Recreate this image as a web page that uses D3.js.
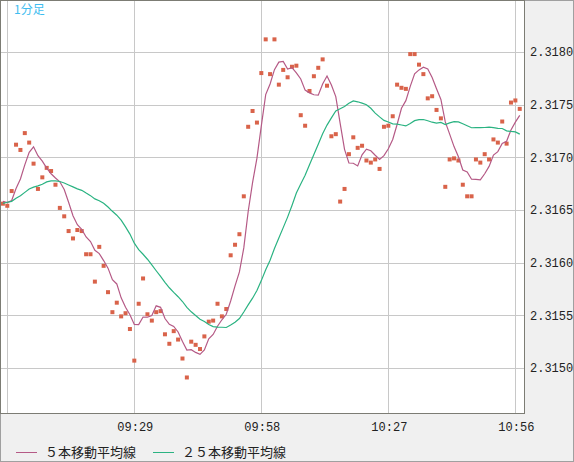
<!DOCTYPE html>
<html>
<head>
<meta charset="utf-8">
<script src="https://cdn.jsdelivr.net/npm/d3@7"></script>
<style>
  body { margin: 0; background: #f0f0f0; }
  svg { display: block; }
</style>
</head>
<body>
<svg id="chart" width="574" height="462"></svg>
<script>
// minute closes, index 0 = 08:59
var startMinute = 8 * 60 + 59
var closes = [2.31656,
  2.31654,2.31668,2.31712,2.31707,2.31723,2.31714,2.31694,2.31670,2.31681,2.31690,
  2.31687,2.31674,2.31652,2.31644,2.31630,2.31623,2.31631,2.31630,2.31608,2.31608,
  2.31582,2.31615,2.31597,2.31572,2.31553,2.31562,2.31549,2.31552,2.31537,2.31507,
  2.31561,2.31585,2.31551,2.31545,2.31553,2.31554,2.31532,2.31523,2.31535,2.31527,
  2.31509,2.31491,2.31525,2.31522,2.31518,2.31530,2.31544,2.31545,2.31561,2.31549,
  2.31556,2.31607,2.31617,2.31627,2.31663,2.31729,2.31744,2.31733,2.31780,2.31812,
  2.31779,2.31812,2.31769,2.31783,2.31776,2.31786,2.31787,2.31740,2.31730,2.31763,
  2.31777,2.31785,2.31793,2.31768,2.31720,2.31722,2.31658,2.31670,2.31703,2.31719,
  2.31709,2.31711,2.31697,2.31695,2.31698,2.31689,2.31729,2.31730,2.31739,2.31769,
  2.31766,2.31765,2.31798,2.31798,2.31788,2.31779,2.31756,2.31758,2.31745,2.31737,
  2.31672,2.31698,2.31699,2.31697,2.31674,2.31663,2.31663,2.31698,2.31695,2.31703,
  2.31698,2.31717,2.31714,2.31734,2.31713,2.31752,2.31754,2.31746]
// closes before the visible window, only used to seed the averages
var prior = [2.31630,2.31645,2.31638,2.31650,2.31642,2.31635,2.31648,2.31640,2.31644,2.31632,
  2.31665,2.31672,2.31668,2.31680,2.31675,2.31670,2.31678,2.31665,2.31673,2.31668,
  2.31660,2.31658,2.31655,2.31662]
var yTicks = [2.3150, 2.3155, 2.3160, 2.3165, 2.3170, 2.3175, 2.3180]
var xTicks = ["09:00", "09:29", "09:58", "10:27", "10:56"]
var legend = [{name: "５本移動平均線", n: 5, color: "#b55a86"},
              {name: "２５本移動平均線", n: 25, color: "#2bb382"}]

function toMin(s){ var p = s.split(":"); return +p[0] * 60 + +p[1] - startMinute }

var all = prior.concat(closes)
function ma(n){
  return closes.map((c, i) => {
    var j = i + prior.length
    return {i: i, v: d3.mean(all.slice(j - n + 1, j + 1))}
  })
}

var svg = d3.select("#chart")
var plot = {left: 0.5, top: 0.5, right: 524.5, bottom: 413.5}

var x = d3.scaleLinear().domain([0, 118]).range([2.9, 2.9 + 4.38 * 118])
var y = d3.scaleLinear().domain([2.3150, 2.3180]).range([368, 52])

svg.append("rect").attr("x", 0.5).attr("y", 0.5).attr("width", 573).attr("height", 461)
  .attr("fill", "#f0f0f0").attr("stroke", "#a0a0a0")
svg.append("rect").attr("x", plot.left).attr("y", plot.top)
  .attr("width", plot.right - plot.left).attr("height", plot.bottom - plot.top)
  .attr("fill", "#fff")

svg.append("clipPath").attr("id", "clip").append("rect")
  .attr("x", plot.left).attr("y", plot.top)
  .attr("width", plot.right - plot.left).attr("height", plot.bottom - plot.top)

var g = svg.append("g").attr("clip-path", "url(#clip)")
g.selectAll(".hg").data(yTicks).join("line")
  .attr("x1", plot.left).attr("x2", plot.right)
  .attr("y1", d => Math.round(y(d)) + 0.5).attr("y2", d => Math.round(y(d)) + 0.5)
  .attr("stroke", "#c8c8c8")
g.selectAll(".vg").data(xTicks).join("line")
  .attr("y1", plot.top).attr("y2", plot.bottom)
  .attr("x1", d => Math.round(x(toMin(d))) + 0.5).attr("x2", d => Math.round(x(toMin(d))) + 0.5)
  .attr("stroke", "#c8c8c8")

g.selectAll(".dot").data(closes).join("rect")
  .attr("x", (d, i) => x(i) - 2).attr("y", d => y(d) - 2)
  .attr("width", 4).attr("height", 4).attr("fill", "#d9634a")

legend.forEach(l => {
  g.append("path").datum(ma(l.n))
    .attr("fill", "none").attr("stroke", l.color).attr("stroke-width", 1.2)
    .attr("d", d3.line().x(d => x(d.i)).y(d => y(d.v)))
})

svg.append("rect").attr("x", plot.left).attr("y", plot.top)
  .attr("width", plot.right - plot.left).attr("height", plot.bottom - plot.top)
  .attr("fill", "none").attr("stroke", "#7c7c74")

svg.selectAll(".yl").data(yTicks).join("text")
  .attr("x", 530).attr("y", d => y(d)).attr("dy", "0.35em")
  .style("font", "12px 'Liberation Mono', monospace").attr("fill", "#222")
  .text(d => d.toFixed(4))
svg.selectAll(".xl").data(xTicks.slice(1)).join("text")
  .attr("x", d => x(toMin(d)) + 1).attr("y", 427).attr("dy", "0.35em")
  .attr("text-anchor", "middle")
  .style("font", "12px 'Liberation Mono', monospace").attr("fill", "#222")
  .text(d => d)

svg.append("text").attr("x", 14).attr("y", 10).attr("dy", "0.35em")
  .style("font", "12px 'Noto Sans CJK JP'").attr("fill", "#3fbdf0").text("1分足")

var lx = [16, 153]
legend.forEach((l, k) => {
  svg.append("line").attr("x1", lx[k]).attr("x2", lx[k] + 21)
    .attr("y1", 452.5).attr("y2", 452.5).attr("stroke", l.color)
  svg.append("text").attr("x", lx[k] + 29).attr("y", 452).attr("dy", "0.35em")
    .style("font", "13px 'Noto Sans CJK JP'").attr("fill", "#222").text(l.name)
})
</script>
</body>
</html>
